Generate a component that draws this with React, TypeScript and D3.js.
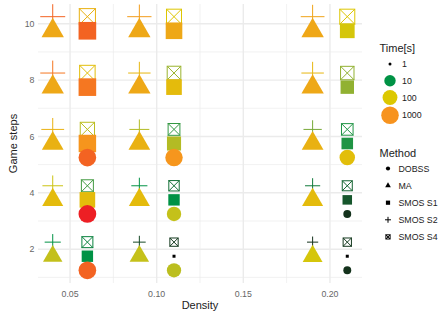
import React from "react";
import * as d3 from "d3";

const densities = [0.05, 0.1, 0.2];
const gameSteps = [2, 4, 6, 8, 10];
const methods = ["DOBSS", "MA", "SMOS S1", "SMOS S2", "SMOS S4"];
const timeBreaks = [1, 10, 100, 1000];

// solve time in seconds: one row per density, one column per game step (null = no result)
const timeDOBSS = [
  [1100, 1200, 1100, null, null],
  [63, 71, 900, null, null],
  [2.2, 2.2, 160, null, null],
];
const timeMA = [
  [70, 180, 280, 420, 420],
  [72, 180, 280, 420, 420],
  [90, 185, 280, 420, 440],
];
const timeS1 = [
  [10, 180, 930, 1060, 1100],
  [1, 10, 56, 180, 420],
  [1, 4, 11, 35, 90],
];
const timeS2 = [
  [10, 80, 280, 1060, 1100],
  [3.2, 10, 56, 225, 700],
  [2.2, 7, 25, 225, 500],
];
const timeS4 = [
  [8, 14, 63, 160, 280],
  [2.5, 6, 12.5, 40, 110],
  [2.5, 5, 11, 35, 110],
];

const times: Record<string, (number | null)[][]> = {
  DOBSS: timeDOBSS,
  MA: timeMA,
  "SMOS S1": timeS1,
  "SMOS S2": timeS2,
  "SMOS S4": timeS4,
};

// dodge offsets (density, steps) per method
const dodge: Record<string, [number, number]> = {
  DOBSS: [0.01, -0.75],
  MA: [-0.01, -0.25],
  "SMOS S1": [0.01, -0.25],
  "SMOS S2": [-0.01, 0.25],
  "SMOS S4": [0.01, 0.25],
};

const W = 440, H = 311;
const panel = { left: 38, right: 362, top: 4, bottom: 283 };
const font = "'Liberation Sans', Arial, Helvetica, sans-serif";
const grid = "#ebebeb";

type Pt = { method: string; x: number; y: number; t: number };

const points: Pt[] = [];
// drawn in reverse method order, like the original
[...methods].reverse().forEach((m) => {
  densities.forEach((d, i) => {
    gameSteps.forEach((s, j) => {
      const t = times[m][i][j];
      if (t == null) return;
      points.push({ method: m, x: d + dodge[m][0], y: s + dodge[m][1], t });
    });
  });
});

const expand = (ext: [number, number]) => {
  const pad = (ext[1] - ext[0]) * 0.05;
  return [ext[0] - pad, ext[1] + pad];
};

const xScale = d3
  .scaleLinear()
  .domain(expand(d3.extent(points, (p) => p.x) as [number, number]))
  .range([panel.left, panel.right]);
const yScale = d3
  .scaleLinear()
  .domain(expand(d3.extent(points, (p) => p.y) as [number, number]))
  .range([panel.bottom, panel.top]);

const colorScale = d3
  .scaleLinear<string>()
  .domain([0, 1, 2, 3, 3.08])
  .range(["#000000", "#009245", "#dcc800", "#f7931e", "#ed1c24"])
  .interpolate(d3.interpolateLab)
  .clamp(true);
const sizeScale = d3
  .scaleSqrt()
  .domain([0, 3.08])
  .range([1.5, 1.5 + 4.2 * Math.sqrt(3.08)])
  .clamp(true);

const lt = (t: number) => Math.log10(t);

const Shape = ({ method, r, color, x, y }: { method: string; r: number; color: string; x: number; y: number }) => {
  const tr = `translate(${x},${y})`;
  if (method === "DOBSS") return <circle cx={x} cy={y} r={r} fill={color} />;
  if (method === "MA") {
    const path = d3.path();
    path.moveTo(0, -1.555 * r);
    path.lineTo(1.347 * r, 0.778 * r);
    path.lineTo(-1.347 * r, 0.778 * r);
    path.closePath();
    return <path transform={tr} d={path.toString()} fill={color} />;
  }
  if (method === "SMOS S1") return <rect x={x - r} y={y - r} width={2 * r} height={2 * r} fill={color} />;
  if (method === "SMOS S2") {
    const a = Math.SQRT2 * r;
    return <path transform={tr} d={`M${-a},0H${a}M0,${-a}V${a}`} stroke={color} strokeWidth={1} fill="none" />;
  }
  return (
    <g transform={tr} stroke={color} strokeWidth={1} fill="none">
      <rect x={-r} y={-r} width={2 * r} height={2 * r} />
      <path d={`M${-r},${-r}L${r},${r}M${-r},${r}L${r},${-r}`} />
    </g>
  );
};

const App = () => {
  const xMajor = [0.05, 0.1, 0.15, 0.2];
  const xMinor = [0.075, 0.125, 0.175];
  const yMajor = gameSteps;
  const yMinor = [1, 3, 5, 7, 9];

  // legend layout
  const timeKeys: { t: number; r: number; cy: number }[] = [];
  let ky = 55.5;
  timeBreaks.forEach((t) => {
    const r = sizeScale(lt(t));
    const h = Math.max(16.8, 2 * r + 1.2);
    timeKeys.push({ t, r, cy: ky + h / 2 });
    ky += h;
  });

  return (
    <svg width={W} height={H} style={{ position: "fixed", left: 0, top: 0 }} fontFamily={font}>
      <rect width={W} height={H} fill="#fff" />
      {xMinor.map((v) => (
        <line key={"xm" + v} x1={xScale(v)} x2={xScale(v)} y1={panel.top} y2={panel.bottom} stroke={grid} strokeWidth={0.7} />
      ))}
      {yMinor.map((v) => (
        <line key={"ym" + v} x1={panel.left} x2={panel.right} y1={yScale(v)} y2={yScale(v)} stroke={grid} strokeWidth={0.7} />
      ))}
      {xMajor.map((v) => (
        <line key={"xM" + v} x1={xScale(v)} x2={xScale(v)} y1={panel.top} y2={panel.bottom} stroke={grid} strokeWidth={1.4} />
      ))}
      {yMajor.map((v) => (
        <line key={"yM" + v} x1={panel.left} x2={panel.right} y1={yScale(v)} y2={yScale(v)} stroke={grid} strokeWidth={1.4} />
      ))}

      {points.map((p, i) => (
        <Shape key={i} method={p.method} r={sizeScale(lt(p.t))} color={colorScale(lt(p.t))} x={xScale(p.x)} y={yScale(p.y)} />
      ))}

      {/* axes */}
      {xMajor.map((v) => (
        <text key={"xl" + v} x={xScale(v)} y={297} textAnchor="middle" fontSize={8.8} fill="#666">
          {d3.format(".2f")(v)}
        </text>
      ))}
      {yMajor.map((v) => (
        <text key={"yl" + v} x={34.5} y={yScale(v) + 3.1} textAnchor="end" fontSize={8.8} fill="#666">
          {v}
        </text>
      ))}
      <text x={(panel.left + panel.right) / 2} y={309} textAnchor="middle" fontSize={11} fill="#222">
        Density
      </text>
      <text transform={`translate(16.5,${(panel.top + panel.bottom) / 2}) rotate(-90)`} textAnchor="middle" fontSize={11} fill="#222">
        Game steps
      </text>

      {/* time legend */}
      <text x={379.5} y={51.5} fontSize={11} fill="#222">Time[s]</text>
      {timeKeys.map((k) => (
        <g key={"tk" + k.t}>
          <circle cx={390} cy={k.cy} r={k.r} fill={colorScale(lt(k.t))} />
          <text x={402} y={k.cy + 3.1} fontSize={8.8} fill="#222">{k.t}</text>
        </g>
      ))}

      {/* method legend */}
      <text x={379.5} y={156.5} fontSize={11} fill="#222">Method</text>
      {methods.map((m, i) => {
        const cy = 168.5 + i * 17.1;
        return (
          <g key={"mk" + m}>
            <Shape method={m} r={2.1} color="#000" x={388} y={cy} />
            <text x={398.5} y={cy + 3.1} fontSize={8.8} fill="#222">{m}</text>
          </g>
        );
      })}
    </svg>
  );
};

export default App;
